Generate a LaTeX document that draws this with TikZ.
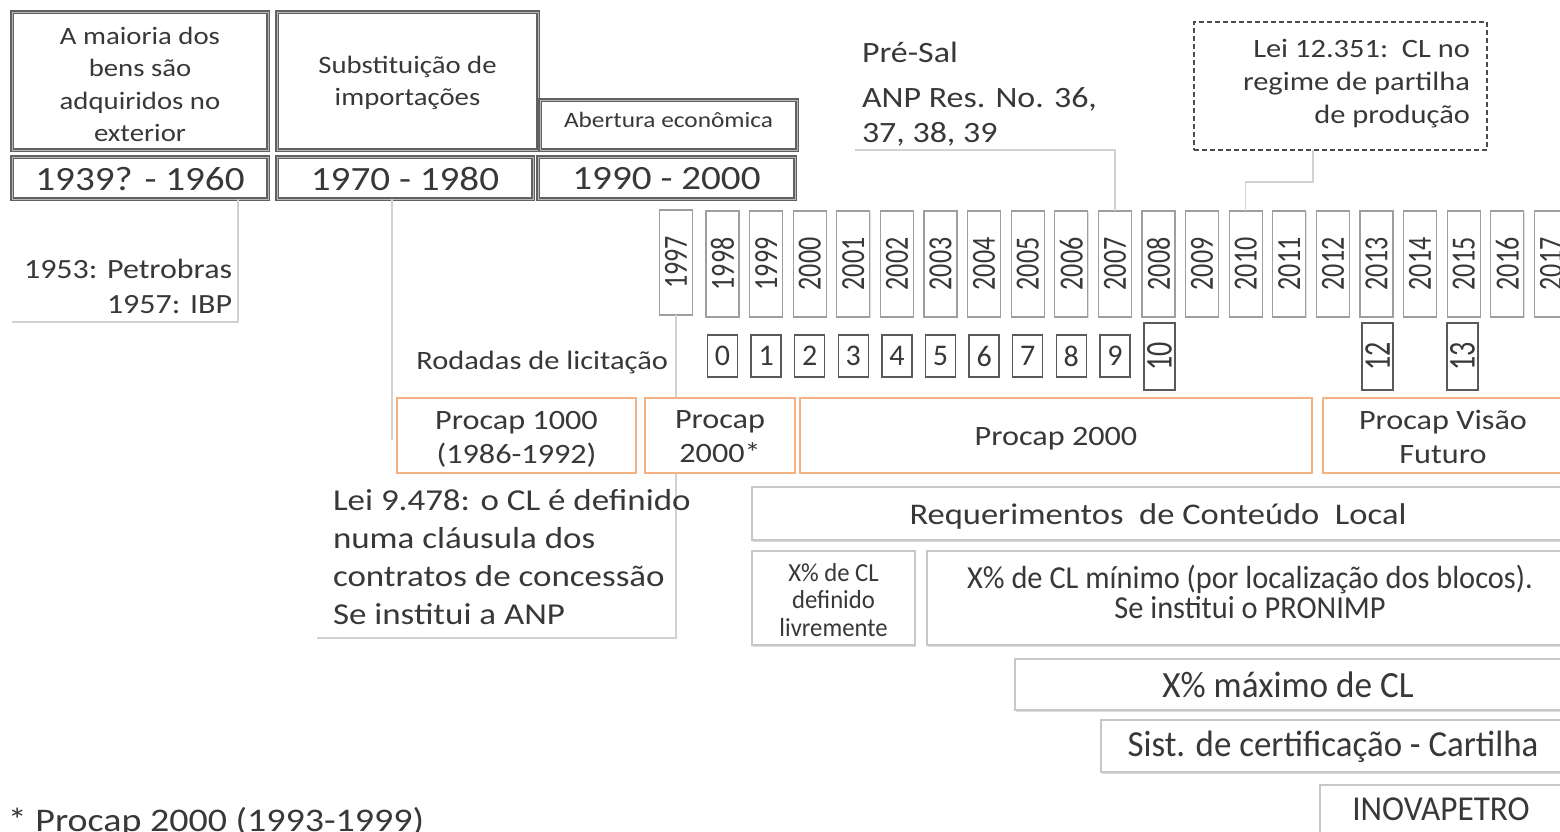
\documentclass[tikz,border=0pt]{standalone}
\usepackage{fontspec}
\setmainfont{Carlito}[FakeStretch=1.15]
\newfontfamily\fcond{Carlito}[FakeStretch=0.95]
\newfontfamily\fplain{Carlito}
\usetikzlibrary{fit,shadows}
\newcommand\fsz[2]{\fontsize{#1}{#2}\selectfont}
\definecolor{txt}{gray}{0.22}
\definecolor{orng}{RGB}{244,177,131}
\definecolor{lin}{gray}{0.82}
\begin{document}
\begin{tikzpicture}[x=1pt,y=-1pt,
  every node/.style={inner sep=0pt, outer sep=0pt, text=txt},
  era/.style={draw=black!62, double=black!28, double distance=0.9pt, line width=1.1pt, fill=white},
  yearbox/.style={draw=black!38, line width=1.3pt, fill=white, minimum width=33pt, minimum height=106pt, font=\fplain\fsz{26}{26},
    drop shadow={shadow xshift=0.8pt, shadow yshift=-1.2pt, fill=black!12, opacity=1}},
  rod/.style={draw=black!65, line width=1.5pt, fill=white, minimum width=30pt, minimum height=42pt, font=\fplain\fsz{30}{30}},
  rodtall/.style={draw=black!65, line width=1.5pt, fill=white, minimum width=31pt, minimum height=67pt, font=\fplain\fsz{28}{28}},
  pro/.style={draw=orng, line width=1.6pt, fill=white},
  protxt/.style={align=center, font=\fsz{28}{34}},
  low/.style={draw=black!22, line width=1.3pt, fill=white,
    drop shadow={shadow xshift=0.8pt, shadow yshift=-1.8pt, fill=black!14, opacity=1}},
  conn/.style={draw=lin, line width=1.4pt},
  free/.style={align=left}]
\useasboundingbox (0,0) rectangle (1560,832);
\clip (0,0) rectangle (1560,832);
\fill[white] (0,0) rectangle (1560,832);

% top era boxes
\node[era, fit={(12,12) (268,150)}] (boxA) {};
\node[align=center, font=\fsz{25}{32.5}] (boxAt) at ([yshift=-3.5pt]boxA.center) {A maioria dos\\bens são\\adquiridos no\\exterior};
\node[era, fit={(277,12) (538,150)}] (boxB) {};
\node[align=center, font=\fsz{25}{32}] (boxBt) at ([yshift=-2pt]boxB.center) {Substituição de\\importações};
\node[era, fit={(540,100) (797,150)}] (boxC) {};
\node[font=\fsz{22}{22}] (boxCt) at ([yshift=5pt]boxC.center) {Abertura econômica};
\node[era, fit={(12,157) (268,199)}] (y1939) {};
\node[font=\fsz{34}{34}] (y1939t) at ([yshift=-1pt]y1939.center) {1939? - 1960};
\node[era, fit={(277,157) (533,199)}] (y1970) {};
\node[font=\fsz{34}{34}] (y1970t) at ([yshift=-1pt]y1970.center) {1970 - 1980};
\node[era, fit={(538,157) (795,199)}] (y1990) {};
\node[font=\fsz{34}{34}] (y1990t) at ([yshift=-1pt]y1990.center) {1990 - 2000};

% connectors (drawn first so boxes cover them)
\coordinate (c1a) at (238,322);
\coordinate (c1b) at (12,322);
\draw[conn] (y1939.south -| c1a) -- (c1a) -- (c1b);
\coordinate (c2) at (392,440);
\draw[conn] (y1970.south -| c2) -- (c2);
\node[draw=black!70, dashed, dash pattern=on 5pt off 3pt, line width=1.5pt, fit={(1194,22) (1487,150)}] (lei12) {};
\coordinate (c5a) at (1313,182);
\coordinate (c4) at (855,150);

% year boxes
\node[yearbox, minimum height=105pt] (yr1997) at (676,262.5) {\rotatebox{90}{\scalebox{1}[1.3]{1997}}};
\foreach \i in {1,...,20}{
  \pgfmathsetmacro\yx{722.5+43.6*(\i-1)}
  \pgfmathtruncatemacro\yy{1997+\i}
  \node[yearbox] (yr\yy) at (\yx,264) {\rotatebox{90}{\scalebox{1}[1.3]{\yy}}};
}
\coordinate (c3a) at (676,638);
\coordinate (c3b) at (317,638);
\draw[conn] (yr1997.south) -- (c3a) -- (c3b);
\draw[conn] (c4) -- (c4 -| yr2007) -- (yr2007.north);
\draw[conn] (lei12.south -| c5a) -- (c5a) -- (c5a -| yr2010) -- (yr2010.north);

% rodadas
\node[anchor=east, font=\fsz{26.5}{26.5}] (rodlbl) at (668,363) {Rodadas de licitação};
\foreach \i in {0,...,9}{
  \pgfmathsetmacro\rx{722.5+43.6*\i}
  \node[rod] (r\i) at (\rx,356) {\i};
}
\node[rodtall] (r10) at (1159.5,356.5) {\rotatebox{90}{\scalebox{1}[1.35]{10}}};
\node[rodtall] (r12) at (1377.5,356.5) {\rotatebox{90}{\scalebox{1}[1.35]{12}}};
\node[rodtall] (r13) at (1462.5,356.5) {\rotatebox{90}{\scalebox{1}[1.35]{13}}};

% free texts
\node[anchor=east, align=right, font=\fsz{27.8}{35}] (petro) at (232,286) {1953: Petrobras\\1957: IBP};
\node[anchor=west, font=\fsz{29.5}{35}] (presal) at (862,52) {Pré-Sal};
\node[anchor=west, free, font=\fsz{29.5}{35}] (anp) at (862,116.5) {ANP Res. No. 36,\\37, 38, 39};
\node[anchor=east, align=right, font=\fsz{26.5}{33}] (lei12t) at (1470,84) {Lei 12.351:\ \ CL no\\regime de partilha\\de produção};

% procap
\node[pro, fit={(397,398) (636,473)}] (p1) {};
\node[protxt] (p1t) at ([yshift=-3.5pt]p1.center) {Procap 1000\\(1986-1992)};
\node[pro, fit={(645,398) (795,473)}] (p2) {};
\node[protxt] (p2t) at ([yshift=-1.5pt]p2.center) {Procap\\2000*};
\node[pro, fit={(800,398) (1312,473)}] (p3) {};
\node[protxt] (p3t) at ([yshift=-3pt]p3.center) {Procap 2000};
\node[pro, fit={(1323,398) (1563,473)}] (p4) {};
\node[protxt] (p4t) at ([yshift=-1.5pt]p4.center) {Procap Visão\\Futuro};

\node[anchor=west, free, font=\fsz{30.4}{38}] (lei9) at (333,557) {Lei 9.478: o CL é definido\\numa cláusula dos\\contratos de concessão\\Se institui a ANP};

% lower boxes
\node[low, fit={(752,487) (1564,540)}] (req) {};
\node[font=\fsz{30}{30}] (reqt) at ([yshift=-3pt]req.center) {Requerimentos\ \ de Conteúdo\ \ Local};
\node[low, fit={(752,551) (915,645)}] (livre) {};
\node[align=center, font=\fcond\fsz{26}{27.5}] (livret) at ([yshift=-2pt]livre.center) {X\% de CL\\definido\\livremente};
\node[low, fit={(927,551) (1573,645)}] (minimo) {};
\node[align=center, font=\fcond\fsz{32}{30}] (minimot) at ([yshift=6pt]minimo.center) {X\% de CL mínimo (por localização dos blocos).\\Se institui o PRONIMP};
\node[low, fit={(1015,659) (1561,710)}] (maximo) {};
\node[font=\fcond\fsz{37}{37}] (maximot) at (maximo.center) {X\% máximo de CL};
\node[low, fit={(1101,720) (1562,772)}] (sist) {};
\node[font=\fcond\fsz{36.7}{36.7}] (sistt) at ([xshift=1.5pt,yshift=-1pt]sist.center) {Sist. de certificação - Cartilha};
\node[low, fit={(1320,785) (1562,840)}] (inova) {};
\node[font=\fcond\fsz{35}{35}] (inovat) at ([yshift=3pt]inova.center) {INOVAPETRO};

\node[anchor=west, font=\fsz{33}{33}] (foot) at (8,822) {* Procap 2000 (1993-1999)};
\end{tikzpicture}
\end{document}
